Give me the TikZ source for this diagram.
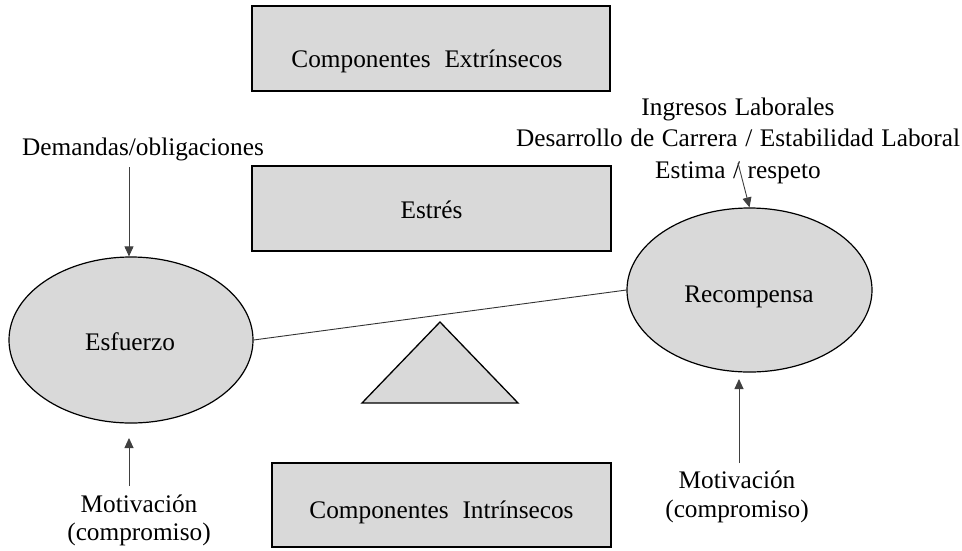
\documentclass[tikz,border=0pt]{standalone}
\usepackage{fontspec}
\setmainfont{Liberation Serif}
\usetikzlibrary{arrows.meta,shapes.geometric}
\definecolor{shade}{HTML}{D9D9D9}
\definecolor{stem}{HTML}{404040}
\begin{document}
\begin{tikzpicture}[x=1pt,y=-1pt,
  every node/.style={font=\fontsize{25.3}{31.5}\selectfont},
  wide/.style={execute at begin node={\spaceskip=0.55em plus 0.1em\relax}},
  roomy/.style={execute at begin node={\spaceskip=0.3em plus 0.05em\relax}},
  panel/.style={draw=black, line width=1.5pt, fill=shade, inner sep=0pt},
  blob/.style={ellipse, draw=black, line width=1.2pt, fill=shade, inner sep=0pt},
  caption/.style={inner sep=0pt, align=center, anchor=base},
  feed/.style={draw=stem, line width=0.9pt, -{Triangle[length=10pt,width=9pt]}},
  beam/.style={draw=black!80, line width=0.9pt}
]
\useasboundingbox (0,0) rectangle (962,550);

% three grey panels
\node[panel, minimum width=358pt, minimum height=85pt] (ext) at (431,48.5) {};
\node[inner sep=0pt, anchor=base, wide] (extlbl) at (427,67) {Componentes Extrínsecos};
\node[panel, minimum width=359pt, minimum height=85pt] (est) at (431.5,208.5) {};
\node[inner sep=0pt, anchor=base] (estlbl) at (431.5,218) {Estrés};
\node[panel, minimum width=339pt, minimum height=84pt] (int) at (441.5,505) {};
\node[inner sep=0pt, anchor=base, wide] (intlbl) at (441.5,518) {Componentes Intrínsecos};

% effort and reward
\node[blob, minimum width=244pt, minimum height=166pt] (esf) at (131,340) {};
\node[inner sep=0pt, anchor=base] (esflbl) at (130,350) {Esfuerzo};
\node[blob, minimum width=245pt, minimum height=164pt] (rec) at (749.5,290) {};
\node[inner sep=0pt, anchor=base] (reclbl) at (749,302) {Recompensa};

% balance beam and fulcrum
\draw[beam] (esf.east) -- (rec.west);
\draw[line width=1.3pt, fill=shade, line join=miter] (362,403) -- (440,322) -- (518,403) -- cycle;

% inputs (base anchor sits on the last line of each block)
\node[inner sep=0pt, anchor=base] (dem) at (143,155) {Demandas/obligaciones};
\node[caption] (motl) at (139,540) {Motivación\\[-3.5pt](compromiso)};
\node[caption] (motr) at (737,517) {Motivación\\[-2.5pt](compromiso)};
\node[caption, roomy] (gain) at (738,178) {Ingresos Laborales\\Desarrollo de Carrera / Estabilidad Laboral\\Estima / respeto};

\coordinate (demtail) at (129,167);
\coordinate (motltail) at (129,486);
\coordinate (motltip) at (129,438);
\coordinate (motrtail) at (739,463);
\coordinate (motrtip) at (739,379);
\coordinate (gaintail) at (738,163);

\draw[feed] (demtail) -- (demtail |- esf.north);
\draw[feed] (motltail) -- (motltip);
\draw[feed] (motrtail) -- (motrtip);
\draw[feed] (gaintail) -- (rec.north);
\end{tikzpicture}
\end{document}
